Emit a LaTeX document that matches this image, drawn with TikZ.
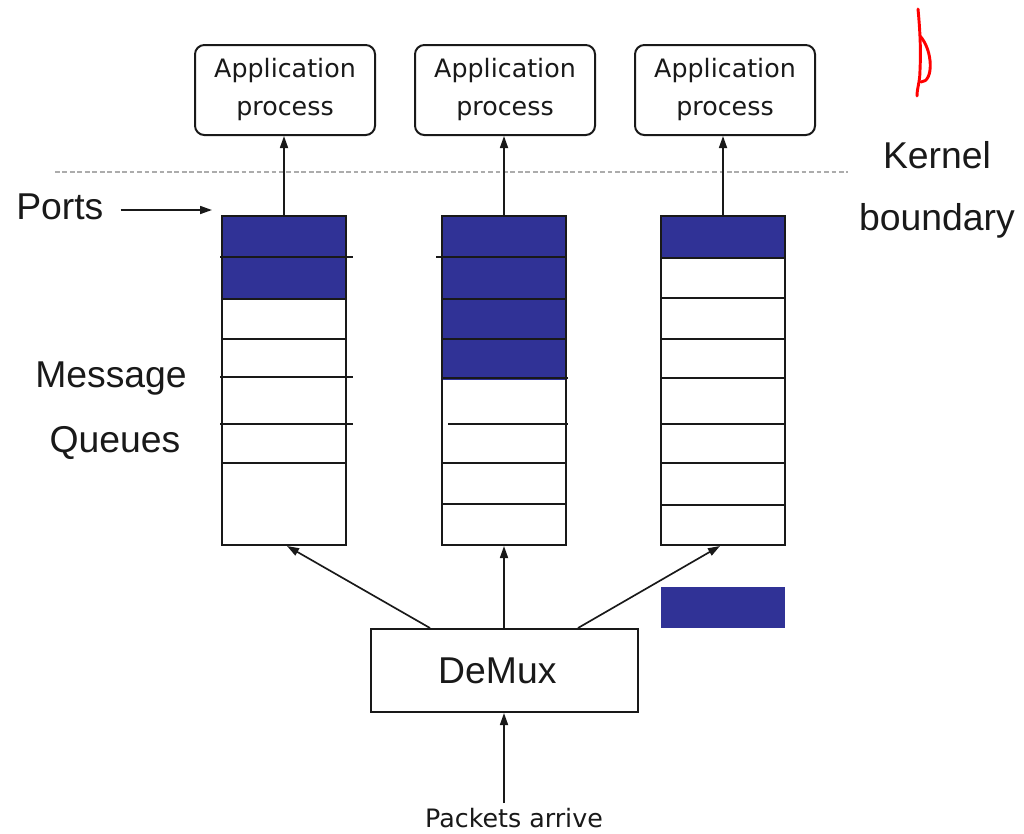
\documentclass[tikz,border=0pt]{standalone}
\usepackage{fontspec}
\setmainfont{Liberation Sans}
\newfontfamily\appfont{DejaVu Sans}
\usetikzlibrary{arrows.meta,calc}
\definecolor{portblue}{RGB}{48,50,150}
\definecolor{ink}{RGB}{25,25,25}
\begin{document}
\begin{tikzpicture}[x=0.75pt,y=-0.75pt,
  appbox/.style={draw=ink, line width=1.5pt, rounded corners=7pt,
    minimum width=135pt, minimum height=67.5pt, align=center,
    font=\appfont\fontsize{19}{28.5}\selectfont, inner sep=0pt, text=ink},
  queue/.style={draw=ink, line width=1.5pt, minimum width=93pt,
    minimum height=246.75pt, inner sep=0pt},
  slot/.style={draw=ink, line width=1.4pt},
  arr/.style={draw=ink, line width=1.25pt, -{Triangle[length=9pt,width=6pt]}},
  biglabel/.style={font=\fontsize{28}{32}\selectfont, inner sep=0pt, text=ink},
]
\useasboundingbox[fill=white] (0,0) rectangle (1024,833);

% application processes above the kernel
\node[appbox] (app1) at (285,90) {Application\\process};
\node[appbox] (app2) at (505,90) {Application\\process};
\node[appbox] (app3) at (725,90) {Application\\process};

% kernel boundary
\draw[gray!65, line width=1.6pt, dash pattern=on 3.6pt off 2pt] (55,172) -- (848,172);
\node[biglabel, anchor=base] (kern) at (937,168) {Kernel};
\node[biglabel, anchor=base] (bound) at (937,230) {boundary};

% queued messages
\fill[portblue] (222,216) rectangle (346,299);
\fill[portblue] (442,216) rectangle (566,380);
\fill[portblue] (661,216) rectangle (785,258);

% slot dividers
\foreach \y/\a/\b in {257/220/353, 299/222/346, 339/222/346, 377/220/353, 424/220/353, 463/222/346}
  \draw[slot] (\a,\y) -- (\b,\y);
\foreach \y/\a/\b in {257/436/566, 299/442/566, 339/442/566, 378/442/568, 424/448/568, 463/442/566, 504/442/566}
  \draw[slot] (\a,\y) -- (\b,\y);
\foreach \y in {258, 298, 339, 378, 424, 463, 505}
  \draw[slot] (661,\y) -- (785,\y);

% port queues
\node[queue] (q1) at (284,380.5) {};
\node[queue] (q2) at (504,380.5) {};
\node[queue] (q3) at (723,380.5) {};

% incoming message waiting to be queued
\node[fill=portblue, minimum width=93pt, minimum height=30.75pt, inner sep=0pt] (pkt) at (723,607.5) {};

% labels on the left
\node[biglabel, anchor=base west] (ports) at (16,219) {Ports};
\coordinate (portstip) at (212,210);
\draw[arr] ($(ports.east |- portstip)+(17,0)$) -- (portstip);
\node[biglabel, anchor=base] (msg) at (111,387) {Message};
\node[biglabel, anchor=base] (que) at (115,452) {Queues};

% queues deliver to the processes
\draw[arr] (q1.north) -- (q1.north |- app1.south);
\draw[arr] (q2.north) -- (q2.north |- app2.south);
\draw[arr] (q3.north) -- (q3.north |- app3.south);

% demultiplexer
\node[draw=ink, line width=1.5pt, minimum width=200.25pt, minimum height=62.25pt,
  font=\fontsize{28}{32}\selectfont, text=ink] (demux) at (504,670.5) {DeMux\hspace*{10pt}};
\draw[arr] ($(demux.north)+(-74,0)$) -- ($(q1.south)+(3,0)$);
\draw[arr] (demux.north -| q2.south) -- (q2.south);
\draw[arr] ($(demux.north)+(74,0)$) -- ($(q3.south)+(-3,0)$);

% arriving packets
\node[font=\appfont\fontsize{19}{23}\selectfont, anchor=base, text=ink] (pk) at (514,827) {Packets arrive};
\draw[arr] (pk.north -| demux.south) -- (demux.south);

% red pen mark
\draw[red, line width=2.2pt, line cap=round, line join=round]
  (918,9) .. controls (920,30) and (921,50) .. (920,70)
  .. controls (920,82) and (917,88) .. (917,96);
\draw[red, line width=2.2pt, line cap=round, line join=round]
  (920,36) .. controls (933,50) and (934,82) .. (921,82);
\end{tikzpicture}
\end{document}
